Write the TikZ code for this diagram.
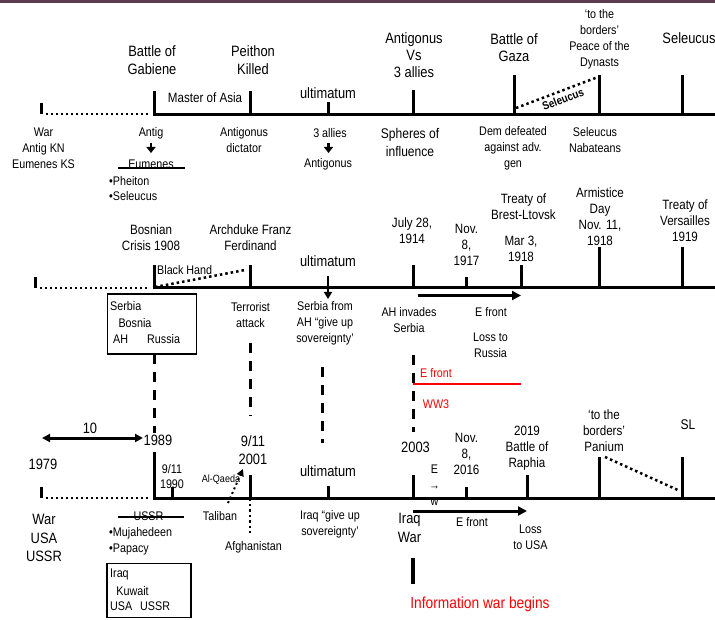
\documentclass[tikz,border=0pt]{standalone}
\usepackage{fontspec}
\setmainfont{Liberation Sans}[FakeStretch=0.86]
\usetikzlibrary{arrows.meta}
\definecolor{topbar}{HTML}{5C3B4E}
\definecolor{wred}{HTML}{FF0000}
\begin{document}
\begin{tikzpicture}[x=1pt,y=-1pt,
  ax/.style={line width=3pt},
  tk/.style={line width=3pt},
  dotl/.style={line width=2pt,dash pattern=on 2pt off 3pt},
  dotd/.style={line width=2.5pt,dash pattern=on 2.5pt off 3pt},
  dashv/.style={line width=3pt,dash pattern=on 10pt off 8pt},
  fs/.style={font=\fontsize{12.5}{16}\selectfont,align=center,inner sep=0pt},
  fm/.style={font=\fontsize{13.5}{16}\selectfont,align=center,inner sep=0pt},
  fl/.style={font=\fontsize{15}{18.5}\selectfont,align=center,inner sep=0pt},
  boxst/.style={draw,line width=1.2pt,inner sep=0pt},
  arr/.style={line width=3pt,-{Triangle[length=9pt,width=9pt]}},
  darr/.style={line width=2.5pt,-{Triangle[length=6pt,width=9pt]}},
]
\useasboundingbox (0,0) rectangle (715,620);
\fill[topbar] (0,0) rectangle (715,3);

% ================= Timeline 1 =================
\coordinate (t1s) at (41,114.5); \coordinate (t1st) at (41,103);
\coordinate (t1d) at (46,114.5); \coordinate (t1de) at (150,114.5);
\coordinate (t1a) at (152.5,114.5); \coordinate (t1e) at (715,114.5);
\draw[tk] (t1s) -- (t1st);
\draw[dotl] (t1d) -- (t1de);
\draw[ax] (t1a) -- (t1e);
\foreach \x/\t [count=\i] in {154/91,250/91,328/102,413/90,514/75,599/75,682/75}{
  \coordinate (p1b\i) at (\x,114.5); \coordinate (p1t\i) at (\x,\t);
  \draw[tk] (p1b\i) -- (p1t\i);
}
\node[fl] (gab) at (152,60) {Battle of\\Gabiene};
\node[fl] (peit) at (253,60) {Peithon\\Killed};
\node[fm] (mast) at (205,98) {Master of Asia};
\node[fl] (ult1) at (328,93.5) {ultimatum};
\node[fl,font=\fontsize{15}{17}\selectfont] (avs) at (414,55) {Antigonus\\Vs\\3 allies};
\node[fl,font=\fontsize{15}{17}\selectfont] (gaza) at (514,47.5) {Battle of\\Gaza};
\node[fs] (dyn) at (599.5,39) {‘to the\\borders’\\Peace of the\\Dynasts};
\node[fl] (selt) at (689,38) {Seleucus};

\coordinate (sd1) at (516,108); \coordinate (sd2) at (598,77);
\draw[dotd] (sd1) -- (sd2);
\node[font=\bfseries\fontsize{11.5}{13}\selectfont,rotate=20.7,inner sep=0pt] (selr) at (563,99) {Seleucus};

\node[fs] (war1) at (43.5,148.5) {War\\Antig KN\\Eumenes KS};
\node[fs] (antig) at (151,133) {Antig};
\node[fs] (eum) at (151,164) {Eumenes};
\draw[darr] ([yshift=-10pt]antig.center) -- ([yshift=-20pt]antig.center);
\draw[line width=2.5pt] ([xshift=-33pt,yshift=-4pt]eum.center) -- ([xshift=34pt,yshift=-4pt]eum.center);
\node[fs,anchor=west] (phe) at (109,181.5) {•Pheiton};
\node[fs,anchor=west] (sel1) at (109,196.5) {•Seleucus};
\node[fs] (dict) at (244,140.5) {Antigonus\\dictator};
\node[fs] (all3) at (330,133) {3 allies};
\node[fs] (antg2) at (328,164) {Antigonus};
\draw[darr] ([xshift=-1.5pt,yshift=-10pt]all3.center) -- ([xshift=-1.5pt,yshift=-20pt]all3.center);
\node[fm,font=\fontsize{14}{18}\selectfont] (sph) at (410,142) {Spheres of\\influence};
\node[fs] (dem) at (513,148) {Dem defeated\\against adv.\\gen};
\node[fs] (nab) at (595,140.5) {Seleucus\\Nabateans};

% ================= Timeline 2 =================
\coordinate (t2s) at (35,288); \coordinate (t2st) at (35,277);
\coordinate (t2d) at (40,288); \coordinate (t2de) at (150,288);
\coordinate (t2a) at (152.5,288); \coordinate (t2e) at (715,288);
\draw[tk] (t2s) -- (t2st);
\draw[dotl] (t2d) -- (t2de);
\draw[ax] (t2a) -- (t2e);
\foreach \x/\t [count=\i] in {154/265,250/265,413/265,466/277,521/265,599/247,682/247}{
  \coordinate (p2b\i) at (\x,288); \coordinate (p2t\i) at (\x,\t);
  \draw[tk] (p2b\i) -- (p2t\i);
}
\coordinate (ua) at (328,276); \coordinate (ub) at (328,299);
\draw[line width=2.5pt,-{Triangle[length=7pt,width=8pt]}] (ua) -- (ub);
\coordinate (bh1) at (155,287); \coordinate (bh2) at (245,270);
\draw[dotd] (bh1) -- (bh2);

\node[fm] (bos) at (151,238) {Bosnian\\Crisis 1908};
\node[fs,anchor=west] (bh) at (157,270) {Black Hand};
\node[fm] (arch) at (250.5,238) {Archduke Franz\\Ferdinand};
\node[fl] (ult2) at (328,261) {ultimatum};
\node[fm] (jul) at (412,231) {July 28,\\1914};
\node[fm] (nov1) at (466.5,245) {Nov.\\8,\\1917};
\node[fm] (bre) at (523.5,206.5) {Treaty of\\Brest-Ltovsk};
\node[fm] (mar) at (521,248.5) {Mar 3,\\1918};
\node[fm] (arm) at (600,216.5) {Armistice\\Day\\Nov. 11,\\1918};
\node[fm] (ver) at (685,221) {Treaty of\\Versailles\\1919};

\coordinate (ea1) at (418,295.5); \coordinate (ea2) at (521,295.5);
\draw[arr] (ea1) -- (ea2);

\node[boxst,minimum width=89pt,minimum height=60pt] (box1) at (151.75,324) {};
\node[fs,anchor=west] (b1a) at (110,306.5) {Serbia};
\node[fs] (b1b) at (135,323) {Bosnia};
\node[fs,anchor=west] (b1c) at (113,339) {AH};
\node[fs,anchor=west] (b1d) at (147,339) {Russia};
\node[fs] (ter) at (250.5,315) {Terrorist\\attack};
\node[fs] (sfa) at (325,323) {Serbia from\\AH “give up\\sovereignty’};
\node[fs] (ahi) at (409,320) {AH invades\\Serbia};
\node[fs] (ef1) at (491,312.5) {E front};
\node[fs] (lr) at (490.5,345) {Loss to\\Russia};

% dashed links
\coordinate (dv1a) at (154,354); \coordinate (dv1b) at (154,433);
\coordinate (dv2a) at (250,343); \coordinate (dv2b) at (250,416);
\coordinate (dv3a) at (322,367); \coordinate (dv3b) at (322,443);
\coordinate (dv4a) at (413,355); \coordinate (dv4b) at (413,432);
\draw[dashv] (dv1a) -- (dv1b);
\draw[dashv] (dv2a) -- (dv2b);
\draw[dashv] (dv3a) -- (dv3b);
\draw[dashv] (dv4a) -- (dv4b);

\node[fs,text=wred] (ref) at (436,373) {E front};
\coordinate (rl1) at (413,383.5); \coordinate (rl2) at (521,383.5);
\draw[wred,line width=2pt] (rl1) -- (rl2);
\node[fs,text=wred] (ww3) at (436,404.5) {WW3};

% ================= Timeline 3 =================
\coordinate (t3s) at (41,498); \coordinate (t3st) at (41,487);
\coordinate (t3d) at (46,498); \coordinate (t3de) at (150,498);
\coordinate (t3a) at (152.5,498); \coordinate (t3e) at (715,498);
\draw[tk] (t3s) -- (t3st);
\draw[dotl] (t3d) -- (t3de);
\draw[ax] (t3a) -- (t3e);
\foreach \x/\t [count=\i] in {154/452,172/487,250/475,328/486,413/475,466/487,527/475,599/457,682/457}{
  \coordinate (p3b\i) at (\x,498); \coordinate (p3t\i) at (\x,\t);
  \draw[tk] (p3b\i) -- (p3t\i);
}
\node[fl] (ten) at (90,428.5) {10};
\coordinate (da1) at (42,438); \coordinate (da2) at (143,438);
\draw[line width=3pt,{Triangle[length=8pt,width=8pt]}-{Triangle[length=8pt,width=8pt]}] (da1) -- (da2);
\node[fl] (y1989) at (158,440.5) {1989};
\node[fl] (y1979) at (43,464) {1979};
\node[fs,font=\fontsize{12.5}{15}\selectfont] (y1990) at (172,477) {9/11\\1990};
\node[fl] (y2001) at (253,450) {9/11\\2001};
\node[font=\fontsize{10.5}{12}\selectfont,inner sep=0pt] (alq) at (221,479.5) {Al-Qaeda};
\coordinate (aq1) at (228,503); \coordinate (aq2) at (243,469);
\draw[dotl,-{Triangle[length=7pt,width=7pt]}] (aq1) -- (aq2);
\coordinate (af1) at (250,498); \coordinate (af2) at (250,533);
\draw[line width=2.5pt,dash pattern=on 2.5pt off 3pt] (af1) -- (af2);
\node[fl] (ult3) at (328,471.5) {ultimatum};
\node[fl] (y2003) at (415.5,447.5) {2003};
\node[fs] (ew) at (434.5,485) {E\\→\\w};
\node[fm] (nov2) at (466.5,454) {Nov.\\8,\\2016};
\node[fm] (rap) at (527,448) {2019\\Battle of\\Raphia};
\node[fm] (pan) at (604,430.5) {‘to the\\borders’\\Panium};
\node[fm,font=\fontsize{14}{16}\selectfont] (sl) at (688,425) {SL};
\coordinate (pd1) at (605,457); \coordinate (pd2) at (680,491);
\draw[dotd] (pd1) -- (pd2);
\coordinate (eb1) at (413,511); \coordinate (eb2) at (527,511);
\draw[arr] (eb1) -- (eb2);

\node[fl] (war3) at (44,538) {War\\USA\\USSR};
\node[fs] (ussr) at (148.5,516.5) {USSR};
\draw[line width=2.5pt] ([xshift=-30.5pt,yshift=-0.5pt]ussr.center) -- ([xshift=35.5pt,yshift=-0.5pt]ussr.center);
\node[fs,anchor=west] (muj) at (109,533.5) {•Mujahedeen};
\node[fs,anchor=west] (pap) at (109,549.5) {•Papacy};
\node[boxst,minimum width=84pt,minimum height=54pt] (box2) at (149,590.5) {};
\node[fs,anchor=west] (b2a) at (110,574.5) {Iraq};
\node[fs] (b2b) at (132.5,591) {Kuwait};
\node[fs,anchor=west] (b2c) at (110,606.5) {USA};
\node[fs,anchor=west] (b2d) at (140,606.5) {USSR};
\node[fs] (tal) at (220,516.5) {Taliban};
\node[fs] (afg) at (253.5,547) {Afghanistan};
\node[fs] (igu) at (330,524) {Iraq “give up\\sovereignty’};
\node[fl] (iw) at (409.5,528) {Iraq\\War};
\node[fs] (ef3) at (472,522) {E front};
\node[fs] (lusa) at (530.5,537) {Loss\\to USA};
\coordinate (bar1) at (413,558); \coordinate (bar2) at (413,584);
\draw[line width=4pt] (bar1) -- (bar2);
\node[fl,text=wred,font=\fontsize{16}{18}\selectfont] (iwb) at (480,604.5) {Information war begins};
\end{tikzpicture}
\end{document}
